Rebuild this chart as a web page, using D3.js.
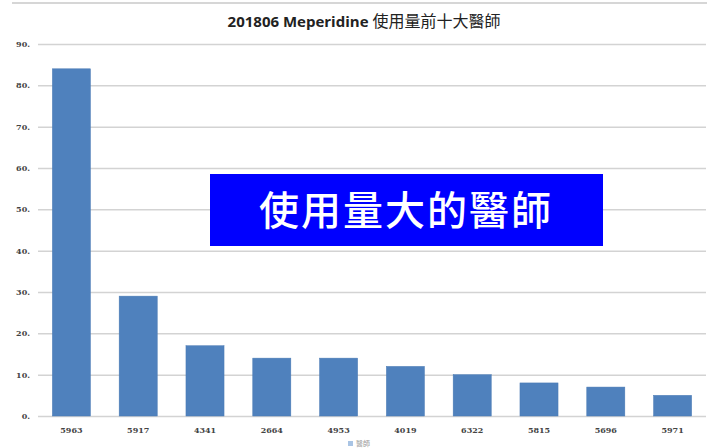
<!DOCTYPE html>
<html>
<head>
<meta charset="utf-8">
<script src="https://cdn.jsdelivr.net/npm/d3@7"></script>
<style>
  body { margin: 0; background: #fff; }
  svg { display: block; }
</style>
</head>
<body>
<svg id="chart"></svg>
<script>
// data
const doctors = ["5963", "5917", "4341", "2664", "4953", "4019", "6322", "5815", "5696", "5971"];
const usage = [84, 29, 17, 14, 14, 12, 10, 8, 7, 5];
const yTicks = [0, 10, 20, 30, 40, 50, 60, 70, 80, 90];

const width = 712, height = 448;
const margin = { left: 38, right: 6, top: 44, bottom: 32 };

const svg = d3.select("#chart")
  .attr("width", width)
  .attr("height", height);

// thin frame line at the top of the slide
svg.append("line")
  .attr("x1", 12).attr("x2", 707)
  .attr("y1", 3).attr("y2", 3)
  .attr("stroke", "#d6d6d6")
  .attr("stroke-width", 2);

const x = d3.scaleBand()
  .domain(doctors)
  .range([margin.left, width - margin.right])
  .paddingInner(0.43)
  .paddingOuter(0.215);

const y = d3.scaleLinear()
  .domain([0, 90])
  .range([height - margin.bottom, margin.top]);

// gridlines + y labels
const yAxis = svg.append("g")
  .attr("transform", "translate(" + margin.left + ",0)")
  .call(d3.axisLeft(y).tickValues(yTicks).tickSize(-(width - margin.left - margin.right)).tickFormat(d => d + "."));
yAxis.select(".domain").remove();
yAxis.selectAll(".tick line")
  .attr("stroke", "#d3d3d3")
  .attr("stroke-width", 1.5);
yAxis.selectAll(".tick text")
  .attr("x", -8)
  .attr("fill", "#444")
  .style("font-family", "'DejaVu Serif', 'Liberation Serif', serif")
  .style("font-size", "8px")
  .style("font-weight", "bold");

// bars
svg.append("g").selectAll("rect")
  .data(usage)
  .enter()
  .append("rect")
  .attr("x", (d, i) => x(doctors[i]))
  .attr("y", d => y(d))
  .attr("width", x.bandwidth())
  .attr("height", d => y(0) - y(d))
  .attr("fill", "#4f81bd")
  .attr("stroke", "#4a7ab3")
  .attr("stroke-width", 0.5);

// x labels
const xAxis = svg.append("g")
  .attr("transform", "translate(0," + y(0) + ")")
  .call(d3.axisBottom(x).tickSize(0).tickPadding(11));
xAxis.select(".domain").remove();
xAxis.selectAll(".tick text")
  .attr("fill", "#444")
  .style("font-family", "'DejaVu Serif', 'Liberation Serif', serif")
  .style("font-size", "8px")
  .style("font-weight", "bold");

// title
const title = svg.append("text")
  .attr("x", 364)
  .attr("y", 27)
  .attr("text-anchor", "middle")
  .attr("fill", "#222");
title.append("tspan")
  .style("font-family", "'Open Sans', 'Noto Sans', sans-serif")
  .style("font-weight", "bold")
  .style("font-size", "15px")
  .text("201806 Meperidine ");
title.append("tspan")
  .style("font-family", "'Noto Sans CJK TC', sans-serif")
  .style("font-size", "16px")
  .text("使用量前十大醫師");

// highlight banner
svg.append("rect")
  .attr("x", 210).attr("y", 174)
  .attr("width", 393).attr("height", 72)
  .attr("fill", "#0000ff");
svg.append("text")
  .attr("x", 406)
  .attr("y", 225)
  .attr("text-anchor", "middle")
  .attr("fill", "#fff")
  .style("font-family", "'Noto Sans CJK TC', sans-serif")
  .style("font-size", "40px")
  .style("font-weight", "500")
  .style("letter-spacing", "2px")
  .text("使用量大的醫師");

// legend at the bottom edge
svg.append("rect")
  .attr("x", 348).attr("y", 441)
  .attr("width", 5).attr("height", 5)
  .attr("fill", "#a9c4e4");
svg.append("text")
  .attr("x", 356).attr("y", 446)
  .attr("fill", "#999")
  .style("font-family", "'Noto Sans CJK TC', sans-serif")
  .style("font-size", "7px")
  .text("醫師");
</script>
</body>
</html>
